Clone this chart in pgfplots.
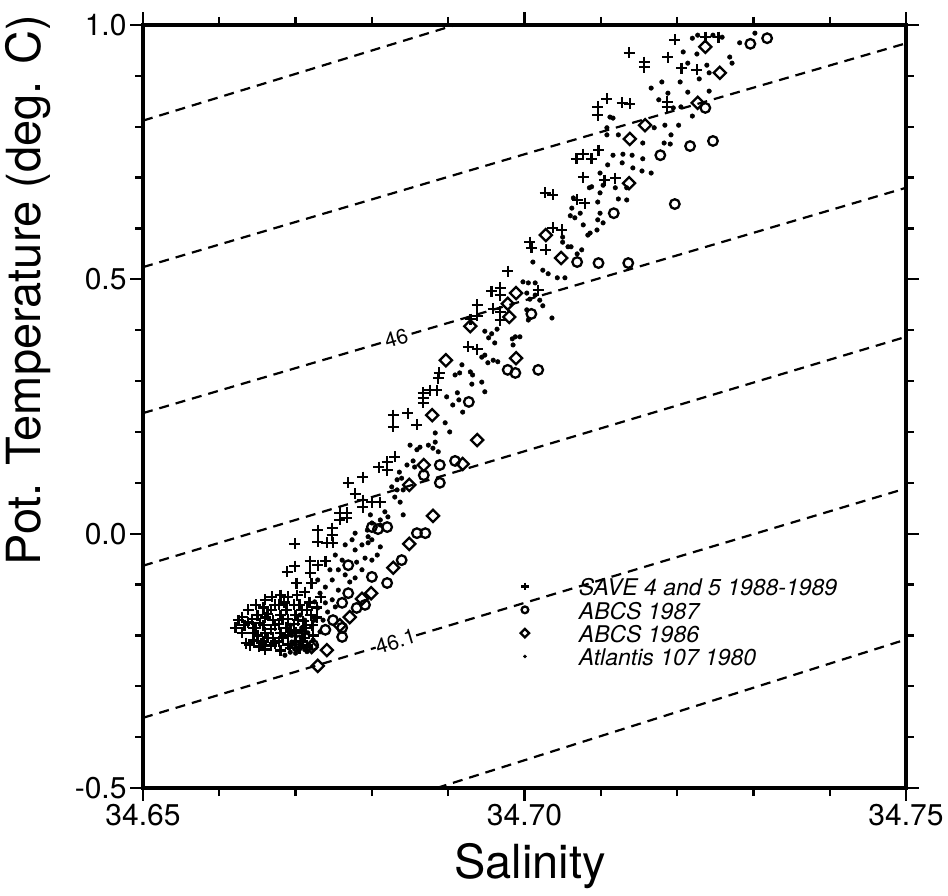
\documentclass[border=0pt]{standalone}
\usepackage{fontspec}
\setmainfont{TeX Gyre Heros}
\usepackage{pgfplots}
\pgfplotsset{compat=1.18}
\begin{document}
\begin{tikzpicture}
\begin{axis}[
  width=763pt, height=763pt, scale only axis,
  xmin=34.65, xmax=34.75, ymin=-0.5, ymax=1.0,
  scaled ticks=false,
  xtick={34.65,34.70,34.75}, xticklabels={34.65,34.70,34.75},
  ytick={-0.5,0,0.5,1.0}, yticklabels={-0.5,0.0,0.5,1.0},
  minor xtick={34.66,34.67,34.68,34.69,34.71,34.72,34.73,34.74},
  minor ytick={-0.4,-0.3,-0.2,-0.1,0.1,0.2,0.3,0.4,0.6,0.7,0.8,0.9},
  tick align=outside,
  major tick length=13pt, minor tick length=8pt,
  every tick/.style={black, line width=2.2pt},
  axis line style={line width=4pt},
  ticklabel style={font=\fontsize{30}{32}\selectfont},
  xlabel={Salinity}, ylabel={Pot. Temperature (deg. C)},
  label style={font=\fontsize{47}{50}\selectfont},
  xlabel style={at={(axis description cs:0.507,-0.072)}, anchor=north, inner sep=0pt},
  ylabel style={at={(axis description cs:-0.151,0.653)}, anchor=center, inner sep=0pt},
  legend style={at={(axis cs:34.6995,-0.083)}, anchor=north west, draw=none, fill=none,
     inner sep=0pt, outer sep=0pt, row sep=0pt,
     font=\fontsize{23}{25}\selectfont\itshape,
     nodes={inner sep=0pt, text height=19.9pt, text depth=3.4pt}},
  legend cell align=left,
  legend image code/.code={\path[draw=none] (0pt,0pt) -- (57pt,0pt);
     \draw[#1, /tikz/every mark/.append style={scale=0.7}] plot coordinates {(3pt,1pt)};},
]
% isopycnals
\addplot[forget plot, black, line width=2.2pt, dash pattern=on 10pt off 7pt] coordinates {(34.65,0.812) (34.6909,1.0)};
\addplot[forget plot, black, line width=2.2pt, dash pattern=on 10pt off 7pt] coordinates {(34.65,0.524) (34.7007,0.749) (34.75,0.964)};
\addplot[forget plot, black, line width=2.2pt, dash pattern=on 10pt off 7pt] coordinates {(34.65,0.237) (34.6812,0.375)};
\addplot[forget plot, black, line width=2.2pt, dash pattern=on 10pt off 7pt] coordinates {(34.6852,0.393) (34.75,0.680)};
\addplot[forget plot, black, line width=2.2pt, dash pattern=on 10pt off 7pt] coordinates {(34.65,-0.063) (34.75,0.387)};
\addplot[forget plot, black, line width=2.2pt, dash pattern=on 10pt off 7pt] coordinates {(34.65,-0.362) (34.6805,-0.224)};
\addplot[forget plot, black, line width=2.2pt, dash pattern=on 10pt off 7pt] coordinates {(34.6858,-0.200) (34.75,0.089)};
\addplot[forget plot, black, line width=2.2pt, dash pattern=on 10pt off 7pt] coordinates {(34.6885,-0.5) (34.75,-0.208)};
\node[rotate=16.5, font=\fontsize{21}{22}\selectfont, inner sep=0pt] at (axis cs:34.6832,0.384) {46};
\node[rotate=16.7, font=\fontsize{21}{22}\selectfont, inner sep=0pt] at (axis cs:34.6831,-0.212) {46.1};

% SAVE 4 and 5
\addplot[only marks, mark=+, mark size=5.5pt, line width=2.4pt, black] coordinates {
(34.7197,0.971)(34.7237,0.976)(34.7254,0.976)(34.7137,0.945)(34.7157,0.927)(34.7157,0.917)(34.7188,0.937)(34.7206,0.915)(34.7226,0.912)
(34.7108,0.855)(34.7096,0.839)(34.7096,0.823)(34.7128,0.847)(34.7138,0.845)(34.7187,0.849)(34.7187,0.839)
(34.7068,0.737)(34.7077,0.746)(34.7088,0.737)(34.7097,0.754)(34.7077,0.701)(34.7105,0.695)(34.7119,0.699)
(34.7027,0.670)(34.7037,0.666)(34.7069,0.656)(34.7079,0.650)(34.7037,0.601)(34.7049,0.597)(34.7007,0.573)(34.7009,0.562)(34.7028,0.558)
(34.6978,0.516)(34.6957,0.477)(34.6968,0.483)(34.6968,0.469)(34.7018,0.479)(34.6938,0.450)(34.6959,0.442)(34.6968,0.436)(34.6938,0.428)(34.6929,0.422)(34.6968,0.420)
(34.6926,0.367)(34.6938,0.363)(34.6888,0.316)(34.6887,0.306)
(34.6867,0.277)(34.6867,0.267)(34.6867,0.257)(34.6876,0.282)(34.6885,0.282)
(34.6828,0.233)(34.6828,0.210)(34.6847,0.237)(34.6859,0.214)
(34.6809,0.131)(34.6820,0.141)(34.6820,0.125)(34.6830,0.151)
(34.6769,0.100)(34.6788,0.111)(34.6778,0.078)(34.6788,0.066)(34.6800,0.062)(34.6811,0.062)(34.6788,0.052)
(34.6758,0.041)(34.6767,0.041)(34.6758,0.027)(34.6767,0.031)
(34.6729,0.007)(34.6748,0.011)(34.6748,-0.003)(34.6729,-0.016)(34.6741,-0.018)(34.6749,-0.018)(34.6699,-0.020)
(34.6689,-0.075)(34.6699,-0.064)(34.6719,-0.054)(34.6729,-0.062)(34.6739,-0.054)(34.6719,-0.077)(34.6701,-0.097)(34.6721,-0.097)
(34.6660,-0.130)(34.6669,-0.124)(34.6680,-0.121)(34.6690,-0.124)(34.6702,-0.121)
(34.6630,-0.164)(34.6621,-0.185)(34.6640,-0.219)(34.6630,-0.195)(34.6635,-0.215)
(34.6638,-0.150)(34.6638,-0.175)(34.6645,-0.195)(34.6645,-0.210)
(34.6648,-0.140)(34.6650,-0.160)(34.6648,-0.185)(34.6650,-0.200)(34.6652,-0.222)
(34.6658,-0.145)(34.6660,-0.165)(34.6658,-0.180)(34.6660,-0.195)(34.6658,-0.212)(34.6660,-0.228)
(34.6668,-0.150)(34.6670,-0.170)(34.6668,-0.188)(34.6670,-0.205)(34.6668,-0.220)
(34.6678,-0.140)(34.6680,-0.160)(34.6678,-0.178)(34.6680,-0.195)(34.6678,-0.212)(34.6680,-0.230)
(34.6688,-0.150)(34.6690,-0.168)(34.6688,-0.185)(34.6690,-0.200)(34.6690,-0.218)
(34.6698,-0.140)(34.6700,-0.160)(34.6698,-0.178)(34.6700,-0.195)(34.6700,-0.212)
(34.6708,-0.150)(34.6710,-0.172)(34.6708,-0.190)(34.6712,-0.205)
(34.6718,-0.135)(34.6720,-0.160)(34.6722,-0.180)
(34.6643,-0.168)(34.6653,-0.176)(34.6663,-0.158)(34.6673,-0.180)(34.6683,-0.168)(34.6693,-0.190)(34.6703,-0.170)(34.6713,-0.185)
(34.6723,-0.200)(34.6728,-0.165)(34.6663,-0.205)(34.6673,-0.215)(34.6683,-0.205)(34.6693,-0.225)(34.6705,-0.225)(34.6715,-0.220)
(34.6655,-0.215)(34.6645,-0.185)(34.6633,-0.180)(34.6625,-0.170)(34.6673,-0.140)(34.6685,-0.135)(34.6705,-0.140)(34.6715,-0.150)
(34.6728,-0.145)(34.6733,-0.125)(34.6712,-0.115)
};
\addlegendentry{SAVE 4 and 5 1988-1989}

% ABCS 1987
\addplot[only marks, mark=o, mark size=4.8pt, line width=2.3pt, black] coordinates {
(34.7296,0.963)(34.7318,0.974)(34.7237,0.837)(34.7217,0.762)(34.7247,0.772)(34.7178,0.744)(34.7197,0.648)(34.7117,0.630)
(34.7069,0.534)(34.7097,0.532)(34.7136,0.532)(34.7009,0.432)(34.6978,0.322)(34.6988,0.316)(34.7018,0.322)(34.6927,0.259)
(34.6889,0.135)(34.6909,0.143)(34.6868,0.115)(34.6889,0.100)(34.6859,0.001)(34.6870,0.001)(34.6820,0.013)(34.6800,0.013)(34.6808,0.009)
(34.6839,-0.052)(34.6820,-0.097)(34.6800,-0.085)(34.6769,-0.117)(34.6780,-0.146)(34.6791,-0.140)(34.6761,-0.136)(34.6749,-0.170)
(34.6739,-0.189)(34.6761,-0.185)(34.6761,-0.203)(34.6769,-0.062)(34.6723,-0.219)(34.6702,-0.222)(34.6705,-0.210)
};
\addlegendentry{ABCS 1987}

% ABCS 1986
\addplot[only marks, mark=square, mark options={rotate=45}, mark size=4.3pt, line width=2.3pt, black] coordinates {
(34.7237,0.957)(34.7256,0.906)(34.7227,0.847)(34.7158,0.803)(34.7138,0.776)(34.7137,0.689)(34.7028,0.587)(34.7048,0.542)
(34.6989,0.473)(34.6978,0.452)(34.6980,0.426)(34.6929,0.408)(34.6897,0.341)(34.6989,0.345)(34.6938,0.184)(34.6879,0.233)
(34.6868,0.135)(34.6849,0.096)(34.6880,0.035)(34.6849,-0.020)(34.6919,0.137)(34.6828,-0.067)(34.6799,-0.117)(34.6787,-0.128)
(34.6771,-0.164)(34.6758,-0.180)(34.6741,-0.229)(34.6729,-0.260)(34.6721,-0.223)
};
\addlegendentry{ABCS 1986}

% Atlantis 107
\addplot[only marks, mark=*, mark size=2.3pt, black] coordinates {
(34.7220,0.974)(34.7227,0.980)(34.7247,0.980)(34.7259,0.976)(34.7282,0.965)(34.7302,0.984)
(34.7208,0.947)(34.7226,0.943)(34.7214,0.925)(34.7239,0.921)(34.7269,0.937)(34.7272,0.925)
(34.7180,0.888)(34.7204,0.888)(34.7229,0.894)(34.7242,0.906)(34.7166,0.876)(34.7188,0.866)(34.7214,0.868)(34.7242,0.870)
(34.7176,0.853)(34.7195,0.837)(34.7205,0.839)(34.7220,0.821)(34.7112,0.819)(34.7116,0.817)(34.7108,0.798)(34.7108,0.784)(34.7123,0.784)
(34.7155,0.768)(34.7170,0.798)(34.7184,0.803)(34.7202,0.803)(34.7192,0.784)(34.7191,0.766)(34.7183,0.768)
(34.7116,0.744)(34.7129,0.746)(34.7141,0.744)(34.7155,0.737)(34.7109,0.725)(34.7128,0.729)(34.7142,0.719)(34.7154,0.713)(34.7166,0.709)(34.7099,0.709)
(34.7119,0.680)(34.7134,0.680)(34.7085,0.680)(34.7099,0.670)(34.7123,0.658)(34.7134,0.656)(34.7064,0.660)(34.7073,0.630)(34.7096,0.652)(34.7099,0.630)
(34.7060,0.625)(34.7066,0.621)(34.7096,0.617)(34.7095,0.597)(34.7083,0.587)(34.7050,0.583)(34.7057,0.564)
(34.7062,0.640)(34.7077,0.607)(34.7103,0.611)(34.7086,0.591)(34.7050,0.573)(34.7061,0.564)(34.7075,0.558)(34.7069,0.550)(34.7103,0.685)(34.7088,0.682)
(34.7011,0.534)(34.7024,0.518)(34.7031,0.511)(34.7043,0.503)(34.7053,0.503)(34.6998,0.495)(34.7005,0.493)(34.7014,0.493)(34.7003,0.473)(34.7014,0.469)(34.7007,0.461)(34.7020,0.459)(34.7024,0.448)
(34.6948,0.398)(34.6957,0.393)(34.6964,0.402)(34.6953,0.385)(34.6961,0.375)(34.6988,0.387)(34.6994,0.387)(34.6985,0.371)(34.6948,0.351)(34.6959,0.341)(34.6965,0.338)(34.6918,0.332)(34.6929,0.318)(34.6944,0.347)(34.6952,0.336)(34.6984,0.383)(34.7003,0.440)(34.7005,0.420)(34.7036,0.424)
(34.6909,0.312)(34.6915,0.316)(34.6932,0.312)(34.6931,0.294)(34.6944,0.298)(34.6948,0.279)(34.6912,0.277)(34.6914,0.263)(34.6919,0.239)(34.6898,0.269)(34.6906,0.253)(34.6896,0.218)(34.6902,0.200)(34.6883,0.198)(34.6883,0.180)
(34.6850,0.174)(34.6859,0.165)(34.6863,0.170)(34.6874,0.174)(34.6880,0.168)(34.6887,0.161)(34.6846,0.135)(34.6854,0.143)(34.6856,0.131)(34.6836,0.121)(34.6833,0.106)(34.6839,0.109)(34.6826,0.092)(34.6833,0.086)(34.6841,0.086)(34.6830,0.072)(34.6837,0.062)(34.6841,0.037)(34.6817,0.043)(34.6821,0.033)(34.6811,0.027)(34.6811,0.017)(34.6798,0.037)(34.6800,0.021)(34.6794,0.007)(34.6795,-0.006)(34.6800,-0.012)(34.6778,0.001)(34.6774,-0.012)(34.6787,-0.022)(34.6811,-0.026)
(34.6795,-0.018)(34.6807,-0.042)(34.6791,-0.048)(34.6800,-0.052)(34.6780,-0.056)(34.6787,-0.071)(34.6778,-0.087)(34.6771,-0.095)(34.6765,-0.081)(34.6756,-0.071)(34.6761,-0.052)(34.6752,-0.042)(34.6748,-0.091)(34.6739,-0.105)(34.6732,-0.117)(34.6725,-0.134)(34.6729,-0.146)(34.6739,-0.136)(34.6742,-0.154)(34.6736,-0.170)(34.6721,-0.183)(34.6716,-0.195)(34.6723,-0.209)(34.6708,-0.209)(34.6702,-0.225)(34.6693,-0.233)(34.6748,-0.130)(34.6756,-0.111)(34.6752,-0.144)(34.6725,-0.170)(34.6732,-0.193)(34.6712,-0.170)(34.6708,-0.185)(34.6706,-0.160)(34.6702,-0.193)(34.6716,-0.219)(34.6695,-0.213)(34.6729,-0.091)(34.6765,-0.022)(34.6778,-0.032)(34.6745,-0.071)(34.6693,-0.180)(34.6686,-0.239)
(34.6715,-0.232)(34.6700,-0.235)(34.6720,-0.225)(34.6695,-0.200)(34.6710,-0.198)(34.6708,-0.218)(34.6712,-0.228)
};
\addlegendentry{Atlantis 107 1980}
\coordinate (o) at (rel axis cs:0,0);
\end{axis}
\pgfresetboundingbox
\path[use as bounding box] (o) ++(-143pt,-107pt) rectangle ++(948pt,895pt);
\end{tikzpicture}
\end{document}
